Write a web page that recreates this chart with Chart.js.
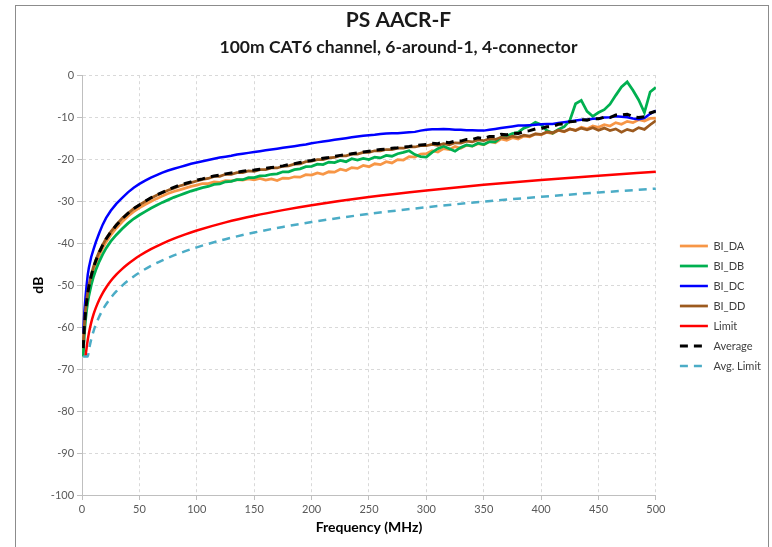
<!DOCTYPE html>
<html>
<head>
<meta charset="utf-8">
<title>PS AACR-F</title>
<script src="https://cdn.jsdelivr.net/npm/chart.js@4.4.1/dist/chart.umd.min.js"></script>
<style>
    body { margin: 0; background: #fff; }
    #frame { position: absolute; left: 15px; top: 5px; width: 752px; height: 545px; border: 1px solid #8c8c8c; }
    #wrap { position: relative; width: 752px; height: 541px; }
</style>
</head>
<body>
<div id="frame"><div id="wrap"><canvas id="aacrChart"></canvas></div></div>
<script>
// measured pairs, MHz
const freq = [1, 2, 3, 4, 5, 6, 8, 10, 12, 15, 18, 21, 25, 30, 35, 40, 45,
    50, 55, 60, 65, 70, 75, 80, 85, 90, 95,
    100, 105, 110, 115, 120, 125, 130, 135, 140, 145, 150, 155, 160, 165, 170, 175, 180, 185, 190, 195,
    200, 205, 210, 215, 220, 225, 230, 235, 240, 245, 250, 255, 260, 265, 270, 275, 280, 285, 290, 295,
    300, 305, 310, 315, 320, 325, 330, 335, 340, 345, 350, 355, 360, 365, 370, 375, 380, 385, 390, 395,
    400, 405, 410, 415, 420, 425, 430, 435, 440, 445, 450, 455, 460, 465, 470, 475, 480, 485, 490, 495,
    500];

const biDA = [-66, -60.5, -57, -54.5, -52.6, -51, -48.5, -46.5, -44.9, -42.9, -41.2, -39.7, -38.1, -36.4, -34.9, -33.6, -32.5,
    -31.6, -30.8, -30.1, -29.4, -28.8, -28.2, -27.7, -27.3, -26.9, -26.5,
    -26.2, -25.8, -25.8, -25.4, -25.5, -25.1, -25.2, -24.9, -25.0, -24.7, -24.9, -24.6, -25.0, -24.7, -25.1, -24.5, -24.6, -24.2, -24.3, -23.7,
    -23.8, -23.3, -23.6, -23.0, -23.1, -22.4, -22.7, -22.0, -22.2, -21.5, -21.8, -21.1, -21.3, -20.6, -20.9, -20.1, -20.2, -19.4, -19.5, -18.8,
    -18.7, -18.0, -18.3, -17.5, -17.7, -17.0, -17.4, -16.7, -16.9, -16.3, -16.6, -15.8, -16.1, -15.2, -15.5, -14.9, -15.2, -14.5, -14.7, -14.0,
    -14.2, -13.6, -13.9, -13.1, -13.5, -12.8, -13.1, -12.4, -12.8, -12.1, -12.4, -11.8, -12.1, -11.3, -11.7, -11.0, -11.3, -10.6, -10.9, -10.3,
    -10.2];

const biDB = [-67, -62, -58.5, -56, -54.1, -52.5, -50, -48, -46.4, -44.4, -42.7, -41.2, -39.6, -38.0, -36.6, -35.3, -34.2,
    -33.3, -32.5, -31.7, -31.0, -30.3, -29.7, -29.1, -28.6, -28.1, -27.6,
    -27.2, -26.8, -26.5, -26.0, -25.9, -25.4, -25.3, -24.9, -24.9, -24.4, -24.4, -24.0, -23.9, -23.6, -23.5, -23.0, -23.0, -22.5, -22.3, -21.8,
    -21.7, -21.2, -21.3, -20.7, -20.8, -20.3, -20.6, -19.9, -20.2, -19.8, -20.1, -19.5, -19.7, -19.1, -19.3, -18.7, -18.4, -18.0, -18.9, -19.4,
    -19.5, -18.4, -17.5, -16.9, -17.5, -18.1, -17.2, -16.6, -16.9, -16.2, -16.5, -15.8, -15.9, -14.8, -14.5, -13.9, -13.6, -12.6, -12.1, -11.2,
    -11.8, -13.2, -13.8, -12.9, -12.3, -10.8, -6.8, -6.0, -8.6, -9.8, -8.9, -8.2, -6.9, -4.8, -2.8, -1.6, -3.6, -5.9, -8.9, -4.0,
    -2.9];

const biDC = [-61.5, -56.5, -53, -50, -47.5, -45.8, -43.3, -41.5, -39.8, -37.6, -35.6, -34, -32.3, -30.6, -29.2, -27.9, -26.8,
    -25.9, -25.1, -24.4, -23.8, -23.2, -22.7, -22.3, -21.9, -21.5, -21.1,
    -20.8, -20.5, -20.2, -19.9, -19.6, -19.4, -19.2, -18.9, -18.7, -18.5, -18.3, -18.1, -17.9, -17.7, -17.5, -17.3, -17.1, -16.9, -16.7, -16.5,
    -16.2, -16.0, -15.8, -15.6, -15.4, -15.2, -15.0, -14.8, -14.6, -14.4, -14.3, -14.2, -14.0, -13.9, -13.8, -13.8, -13.7, -13.6, -13.5, -13.2,
    -13.0, -12.9, -12.9, -12.8, -12.9, -13.0, -13.0, -13.1, -13.1, -13.2, -13.2, -13.0, -12.8, -12.6, -12.4, -12.2, -12.0, -12.0, -11.9, -11.8,
    -11.7, -11.6, -11.6, -11.4, -11.2, -11.0, -10.8, -10.6, -10.6, -10.4, -10.3, -10.1, -10.0, -9.8, -9.9, -10.0, -10.3, -10.5, -10.2, -9.2,
    -8.4];

const biDD = [-64, -59.5, -56, -53.6, -51.7, -50.0, -47.6, -45.6, -44.0, -42.0, -40.4, -38.9, -37.3, -35.6, -34.1, -32.9, -31.8,
    -30.9, -30.1, -29.3, -28.6, -28.0, -27.4, -26.9, -26.4, -26.0, -25.6,
    -25.2, -24.8, -24.6, -24.1, -24.1, -23.6, -23.6, -23.2, -23.2, -22.8, -22.9, -22.5, -22.5, -22.1, -22.1, -21.7, -21.6, -21.2, -21.1, -20.6,
    -20.5, -20.1, -20.1, -19.7, -19.6, -19.2, -19.2, -18.8, -18.8, -18.4, -18.4, -18.0, -18.0, -17.7, -17.7, -17.4, -17.4, -17.1, -17.1, -16.8,
    -16.8, -16.5, -16.7, -16.3, -16.6, -16.1, -16.2, -15.7, -15.9, -15.4, -15.6, -15.1, -15.3, -14.8, -15.0, -14.5, -14.8, -14.3, -14.5, -14.0,
    -14.1, -13.5, -13.7, -13.1, -13.4, -12.8, -13.2, -12.6, -13.0, -12.5, -13.1, -12.6, -13.2, -12.8, -13.6, -12.9, -13.3, -12.5, -12.9, -11.8,
    -10.8];

const average = [-65, -60, -56.5, -54, -52, -50.3, -47.8, -45.8, -44.2, -42.2, -40.5, -39, -37.4, -35.7, -34.2, -32.9, -31.8,
    -30.9, -30.0, -29.2, -28.5, -27.9, -27.3, -26.7, -26.2, -25.8, -25.4,
    -25.0, -24.7, -24.3, -24.0, -23.8, -23.5, -23.3, -23.1, -22.9, -22.7, -22.6, -22.4, -22.2, -22.0, -21.8, -21.6, -21.3, -21.1, -20.8, -20.5,
    -20.3, -20.0, -19.8, -19.6, -19.3, -19.1, -18.9, -18.7, -18.5, -18.3, -18.1, -17.9, -17.7, -17.6, -17.4, -17.3, -17.1, -17.0, -16.8, -16.6,
    -16.5, -16.2, -16.3, -15.9, -16.1, -15.7, -15.7, -15.3, -15.3, -14.9, -15.1, -14.6, -14.6, -14.1, -14.2, -13.8, -13.9, -13.4, -13.2, -12.8,
    -12.7, -12.3, -12.2, -11.7, -11.6, -11.1, -11.0, -10.6, -10.7, -10.3, -10.4, -10.0, -10.1, -9.5, -9.5, -9.3, -9.9, -10.1, -9.9, -9.0,
    -8.6];

// limit curves, own (coarser) frequency points
const limitFreq = [1, 2, 3, 4, 5, 6, 8, 10, 12, 15, 18, 21, 25, 30, 35, 40, 45, 50, 60, 70, 80, 90, 100,
    125, 150, 175, 200, 250, 300, 350, 400, 450, 500];
const limit = [null, null, -67, -64.96, -63.02, -61.44, -58.94, -57.0, -55.42, -53.48, -51.89, -50.56, -49.04, -47.46, -46.12,
    -44.96, -43.94, -43.02, -41.44, -40.10, -38.94, -37.92, -37.0,
    -35.06, -33.48, -32.14, -30.98, -29.04, -27.46, -26.12, -24.96, -23.94, -23.02];
const avgLimit = [-67, -67, -67, -67, -67, -65.44, -62.94, -61.0, -59.42, -57.48, -55.89, -54.56, -53.04, -51.46, -50.12,
    -48.96, -47.94, -47.02, -45.44, -44.10, -42.94, -41.92, -41.0,
    -39.06, -37.48, -36.14, -34.98, -33.04, -31.46, -30.12, -28.96, -27.94, -27.02];

const xTicks = [0, 50, 100, 150, 200, 250, 300, 350, 400, 450, 500];
const yTicks = [0, -10, -20, -30, -40, -50, -60, -70, -80, -90, -100];

const FONT = 'Lato, "Open Sans", sans-serif';

function toPoints(xs, ys) {
    return xs.map((x, i) => ({ x: x, y: ys[i] }));
}

function lineSet(label, xs, ys, color, width, dash, idx) {
    return {
        label: label,
        data: toPoints(xs, ys),
        borderColor: color,
        backgroundColor: color,
        borderWidth: width,
        borderDash: dash,
        pointRadius: 0,
        tension: 0,
        fill: false,
        order: -idx, // later series painted on top, like the spreadsheet
    };
}

// legend samples: take dash/width from the line, not from the (hidden) points
function legendLabels(chart) {
    const items = Chart.defaults.plugins.legend.labels.generateLabels(chart);
    items.forEach(item => {
        const ds = chart.data.datasets[item.datasetIndex];
        item.lineDash = ds.borderDash;
        item.lineWidth = ds.borderWidth;
        item.strokeStyle = ds.borderColor;
        item.fillStyle = ds.borderColor;
    });
    return items.sort((a, b) => a.datasetIndex - b.datasetIndex);
}

function renderChart() {
    const ctx = document.getElementById('aacrChart').getContext('2d');

    const datasets = [
        lineSet('BI_DA', freq, biDA, '#f79646', 2.75, [], 0),
        lineSet('BI_DB', freq, biDB, '#00b050', 2.75, [], 1),
        lineSet('BI_DC', freq, biDC, '#0000ff', 2.5, [], 2),
        lineSet('BI_DD', freq, biDD, '#9c5a1e', 2.75, [], 3),
        lineSet('Limit', limitFreq, limit, '#ff0000', 2.5, [], 4),
        lineSet('Average', freq, average, '#000000', 3, [8, 6], 5),
        lineSet('Avg. Limit', limitFreq, avgLimit, '#4bacc6', 2.5, [8, 6], 6),
    ];
    datasets[4].cubicInterpolationMode = 'monotone';
    datasets[6].cubicInterpolationMode = 'monotone';

    new Chart(ctx, {
        type: 'line',
        data: { datasets: datasets },
        options: {
            responsive: true,
            maintainAspectRatio: false,
            animation: false,
            layout: { padding: { left: 10, right: -3, top: 0, bottom: 7 } },
            plugins: {
                title: {
                    display: true,
                    text: 'PS AACR-F',
                    color: '#1a1a1a',
                    font: { family: FONT, size: 21, weight: 'bold', lineHeight: 1.2 },
                    padding: { top: 2, bottom: 0 },
                },
                subtitle: {
                    display: true,
                    text: '100m CAT6 channel, 6-around-1, 4-connector',
                    color: '#1a1a1a',
                    font: { family: FONT, size: 17.5, weight: 'bold', lineHeight: 1.2 },
                    padding: { top: 4, bottom: 17 },
                },
                legend: {
                    position: 'right',
                    // blank legend title only pushes the entries down
                    title: { display: true, text: '', font: { size: 1, lineHeight: 1 }, padding: { top: 65, bottom: 0 } },
                    labels: {
                        usePointStyle: true,
                        pointStyle: 'line',
                        pointStyleWidth: 28,
                        padding: 9,
                        color: '#404040',
                        font: { family: FONT, size: 11 },
                        generateLabels: legendLabels,
                    },
                },
                tooltip: { enabled: false },
            },
            scales: {
                x: {
                    type: 'linear',
                    min: 0,
                    max: 500,
                    afterBuildTicks: (axis) => { axis.ticks = xTicks.map(v => ({ value: v })); },
                    grid: { color: '#d9d9d9', tickColor: '#bfbfbf', tickLength: 5, tickBorderDash: [] },
                    border: { color: '#bfbfbf', dash: [3, 3] },
                    ticks: { color: '#595959', padding: 3, maxRotation: 0, font: { family: FONT, size: 11 } },
                    title: {
                        display: true,
                        text: 'Frequency (MHz)',
                        color: '#000',
                        font: { family: FONT, size: 14, weight: 'bold' },
                        padding: { top: 0, bottom: 4 },
                    },
                },
                y: {
                    min: -100,
                    max: 0,
                    afterBuildTicks: (axis) => { axis.ticks = yTicks.map(v => ({ value: v })); },
                    grid: { color: '#d9d9d9', tickColor: '#bfbfbf', tickLength: 5, tickBorderDash: [] },
                    border: { color: '#bfbfbf', dash: [3, 3] },
                    ticks: { color: '#595959', padding: 3, font: { family: FONT, size: 11 } },
                    title: {
                        display: true,
                        text: 'dB',
                        color: '#000',
                        font: { family: FONT, size: 14, weight: 'bold' },
                        padding: { top: 4, bottom: 1 },
                    },
                },
                // empty spacer between plot and legend
                gap: {
                    type: 'linear',
                    position: 'right',
                    display: true,
                    grid: { display: false },
                    border: { display: false },
                    ticks: { display: false },
                    afterFit: (scale) => { scale.width = 15; },
                },
            },
        },
    });
}

document.addEventListener('DOMContentLoaded', () => {
    renderChart();
});
</script>
</body>
</html>
